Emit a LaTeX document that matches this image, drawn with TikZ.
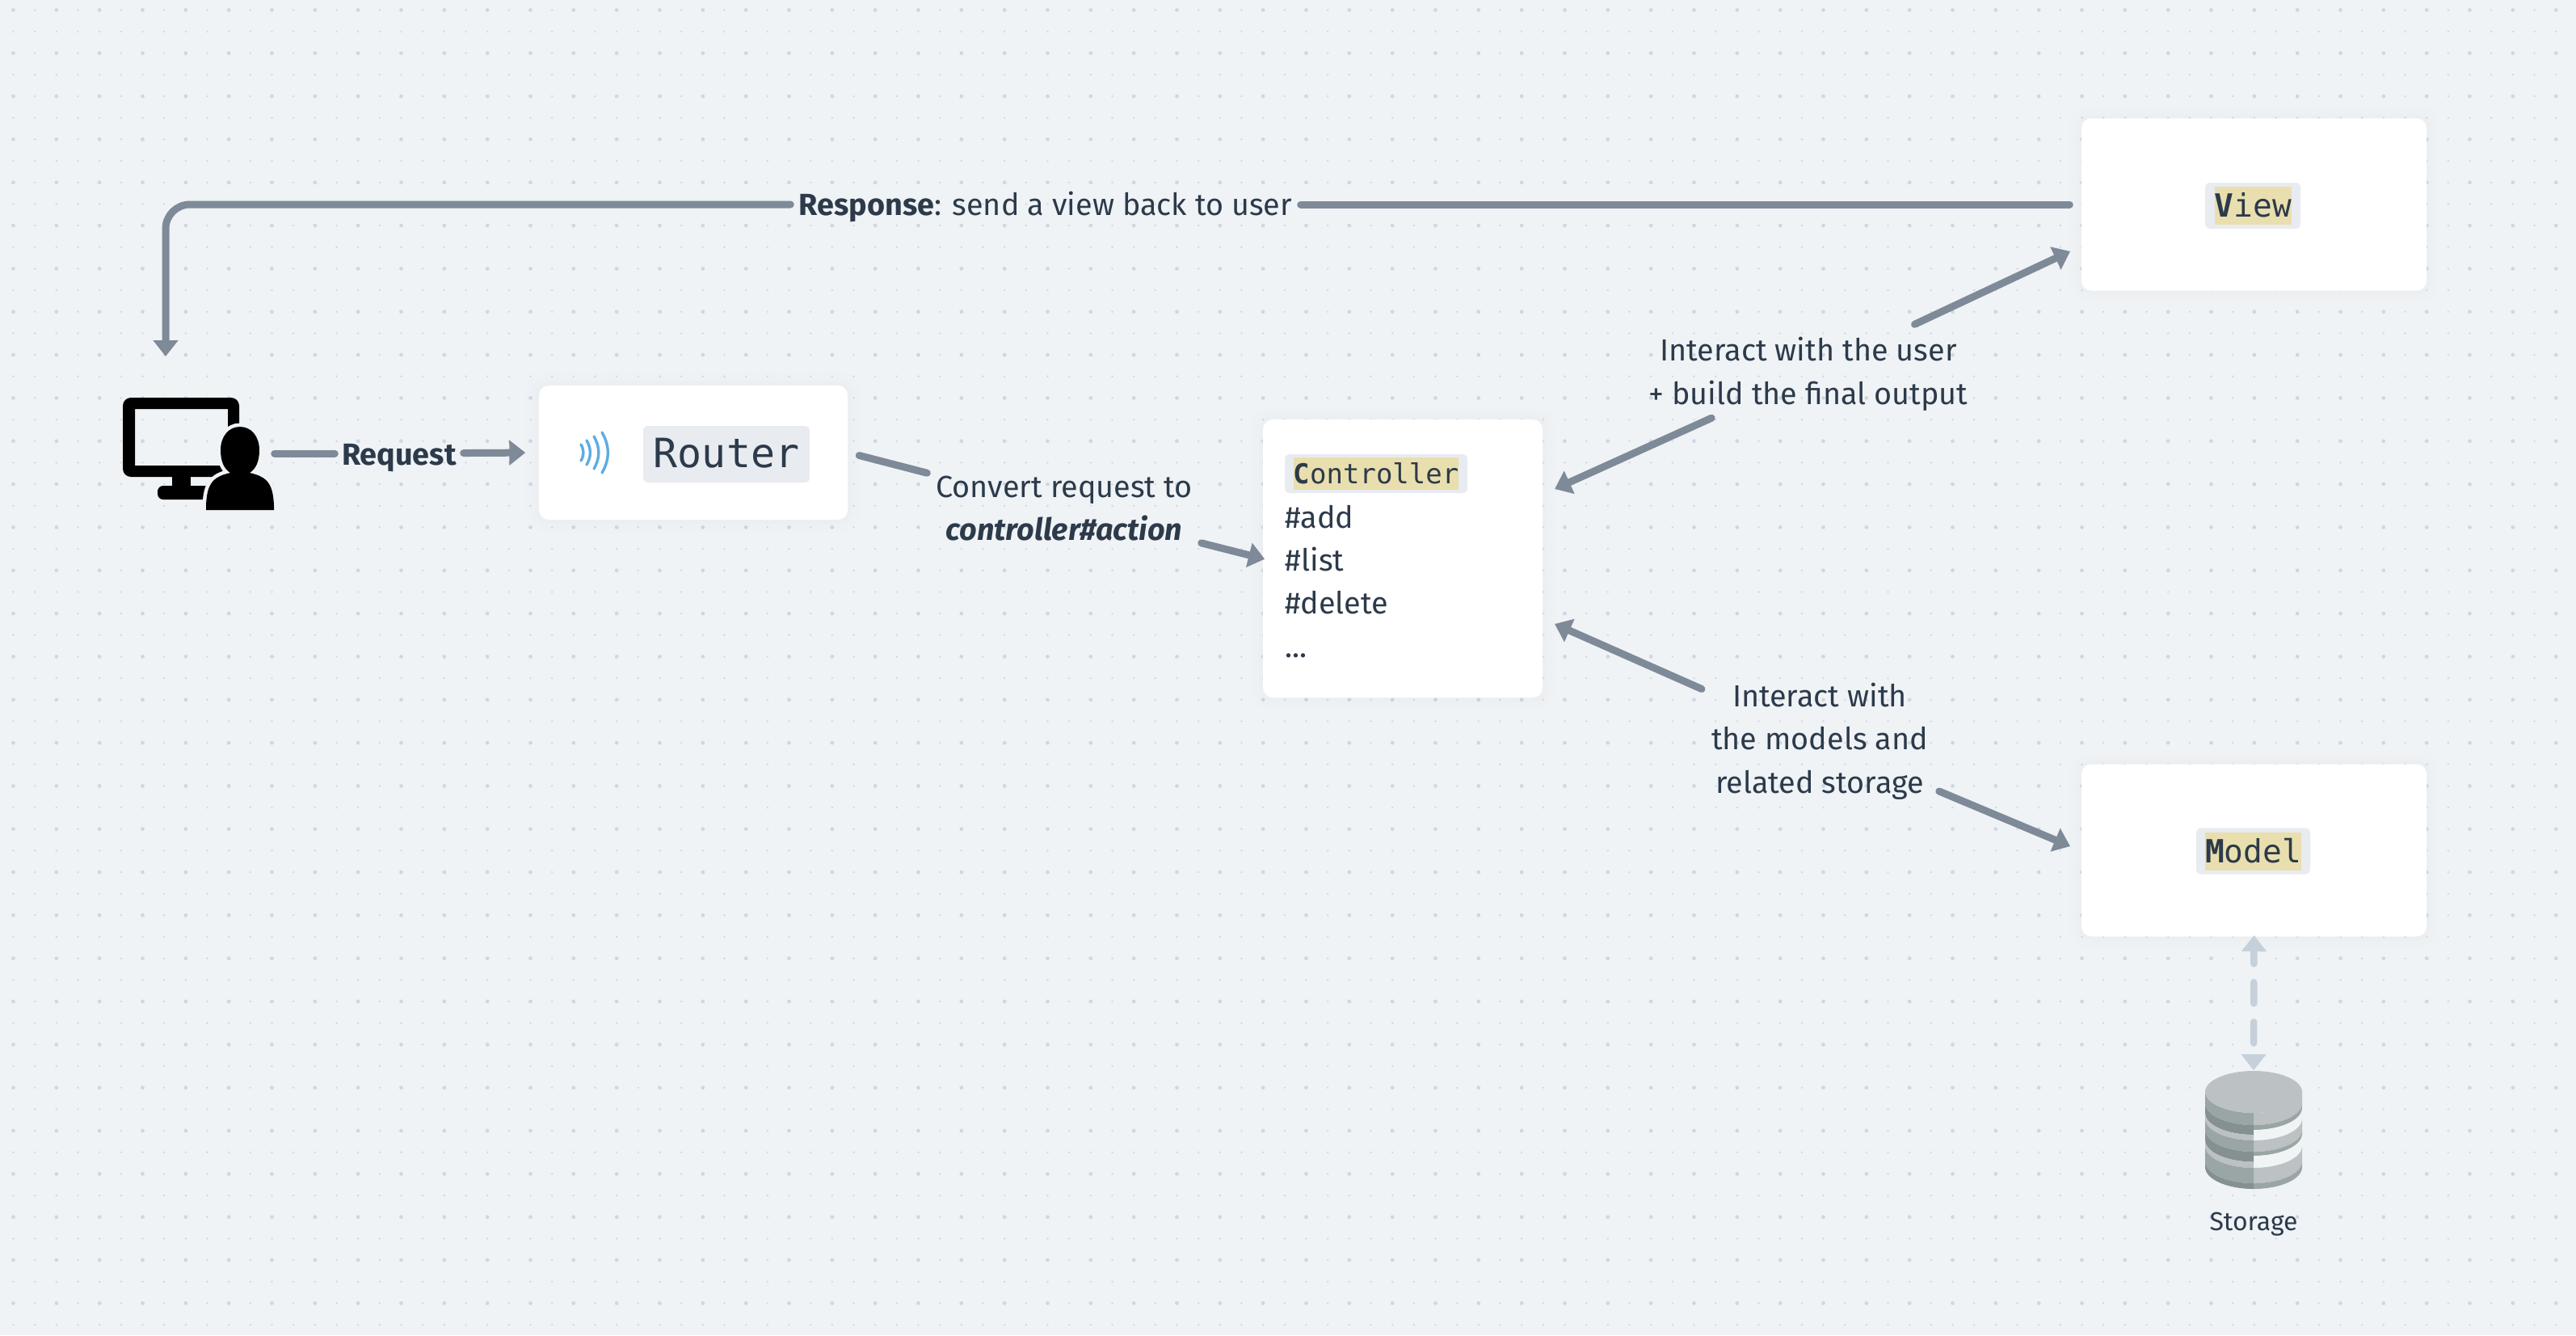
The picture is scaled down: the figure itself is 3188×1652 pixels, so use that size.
\documentclass[tikz,border=0pt]{standalone}
\usepackage{fontspec}
\setmainfont{Fira Sans}
\setmonofont{DejaVu Sans Mono}
\usetikzlibrary{arrows.meta}
\definecolor{bgc}{HTML}{EFF3F6}
\definecolor{dotc}{HTML}{D0D7E2}
\definecolor{ink}{HTML}{2C3A4A}
\definecolor{conn}{HTML}{7F8A98}
\definecolor{dashc}{HTML}{C5D0DA}
\definecolor{chipc}{HTML}{E8EBF0}
\definecolor{hilite}{HTML}{E9DFAE}
\definecolor{wavec}{HTML}{5DADE2}
\definecolor{dbl}{HTML}{BCC1C3}
\definecolor{dbm}{HTML}{9AA5A5}
\definecolor{dbd}{HTML}{859190}
\definecolor{dbw}{HTML}{F1F4F5}
\newcommand{\bandL}[3]{\fill[#3] (2789,#1) .. controls (2756,#1) and (2729,#1-12) .. (2729,#1-27) -- (2729,#2-27) .. controls (2729,#2-12) and (2756,#2) .. (2789,#2) -- cycle;}
\newcommand{\bandR}[3]{\fill[#3] (2789,#1) .. controls (2822,#1) and (2849,#1-12) .. (2849,#1-27) -- (2849,#2-27) .. controls (2849,#2-12) and (2822,#2) .. (2789,#2) -- cycle;}
\newcommand{\txt}{\fontsize{10.75pt}{15.22pt}\selectfont}
\tikzset{
  box/.style={fill=white,rounded corners=1.2mm,inner sep=0,
    preaction={draw=ink,draw opacity=.004,line width=3.4mm},
    preaction={draw=ink,draw opacity=.005,line width=2.2mm},
    preaction={draw=ink,draw opacity=.007,line width=1mm}},
  chip/.style={fill=chipc,rounded corners=.6mm,inner sep=0},
  hl/.style={fill=hilite,inner sep=0,text=ink,font=\ttfamily},
  lab/.style={text=ink,align=center,inner sep=0,font=\txt},
  item/.style={text=ink,anchor=base west,inner sep=0,font=\txt},
  conn/.style={draw=conn,line width=.9mm,line cap=round,line join=round,
    -{Triangle[length=2mm,width=3mm]}},
  plain/.style={draw=conn,line width=.9mm,line cap=round,line join=round},
  wave/.style={draw=wavec,line width=.34mm,line cap=round},
  ghost/.style={inner sep=0},
  dotsmall/.style={draw=dotc,line width=.26mm,line cap=round,dash pattern=on 0pt off 2.6667mm},
  dotlarge/.style={draw=dotc,line width=.48mm,line cap=round,dash pattern=on 0pt off 5.3333mm},
}
\begin{document}
\begin{tikzpicture}[x=0.1mm,y=-0.1mm]
\useasboundingbox (0,0) rectangle (3188,1652);
\fill[bgc] (0,0) rectangle (3188,1652);
% dotted grid
\foreach \j in {0,...,61} { \draw[dotsmall] (16.5,12.4+26.667*\j) -- (3188,12.4+26.667*\j); }
\foreach \j in {0,...,30} { \draw[dotlarge] (16.5,12.4+53.333*\j) -- (3188,12.4+53.333*\j); }

% boxes
\node[box,minimum width=38.2mm,minimum height=16.6mm] (router) at (858,560) {};
\node[box,minimum width=34.6mm,minimum height=34.4mm] (ctrl) at (1736,691) {};
\node[box,minimum width=42.7mm,minimum height=21.3mm] (view) at (2789.5,253) {};
\node[box,minimum width=42.7mm,minimum height=21.3mm] (model) at (2789.5,1052) {};

% router contents
\node[chip,minimum width=20.6mm,minimum height=7mm] (routerchip) at (899,562) {};
\node[text=ink,inner sep=0,text height=3.6mm,text depth=0pt,font=\ttfamily\fontsize{14.2pt}{16pt}\selectfont] (routertxt) at (899,560) {Router};
\draw[wave] (719,550) to[bend left=30] (719,570);
\draw[wave] (726,545) to[bend left=30] (726,575);
\draw[wave] (735,540) to[bend left=30] (735,580);
\draw[wave] (745,535) to[bend left=30] (745,585);

% controller contents
\node[chip,minimum width=22.6mm,minimum height=4.8mm] (ctrlchip) at (1703,586) {};
\node[hl,minimum width=20.4mm,minimum height=4mm,text height=2.4mm,text depth=0pt,font=\ttfamily\fontsize{9.67pt}{12pt}\selectfont] (ctrltxt) at (1703,586) {\textbf{C}ontroller};
\node[item] (add) at (1590,653) {\#add};
\node[item] (list) at (1590,706) {\#list};
\node[item] (del) at (1590,759) {\#delete};
\node[item] (more) at (1590,813) {...};

% view
\node[chip,minimum width=11.8mm,minimum height=5.7mm] (viewchip) at (2788,254.5) {};
\node[hl,minimum width=9.5mm,minimum height=4.7mm,text height=2.8mm,text depth=0pt,font=\ttfamily\fontsize{11.24pt}{13pt}\selectfont] (viewtxt) at (2788.5,254.5) {\textbf{V}iew};

% model
\node[chip,minimum width=14.1mm,minimum height=5.7mm] (modelchip) at (2788.5,1053) {};
\node[hl,minimum width=11.9mm,minimum height=4.7mm,text height=2.8mm,text depth=0pt,font=\ttfamily\fontsize{11.24pt}{13pt}\selectfont] (modeltxt) at (2788.5,1053) {\textbf{M}odel};

% user icon
\node[ghost,minimum width=18.7mm,minimum height=13.9mm] (user) at (245.5,561) {};
\fill[black,rounded corners=1mm,even odd rule] (152,492) rectangle (296,590) (167,506) [sharp corners] rectangle (282,576);
\fill[black] (213,589) rectangle (236,603);
\fill[black,rounded corners=.7mm] (195,601) rectangle (262,618);
\path[fill=bgc,draw=bgc,line width=.9mm,line join=round] (297,528) .. controls (283,528) and (273,540) .. (273,557) .. controls (273,570) and (277,580) .. (285,585) .. controls (262,590) and (256,600) .. (255,626) -- (255,631) -- (339,631) -- (339,626) .. controls (338,600) and (332,590) .. (309,585) .. controls (317,580) and (321,570) .. (321,557) .. controls (321,540) and (311,528) .. (297,528) -- cycle;
\fill[black] (297,528) .. controls (283,528) and (273,540) .. (273,557) .. controls (273,570) and (277,580) .. (285,585) .. controls (262,590) and (256,600) .. (255,626) -- (255,631) -- (339,631) -- (339,626) .. controls (338,600) and (332,590) .. (309,585) .. controls (317,580) and (321,570) .. (321,557) .. controls (321,540) and (311,528) .. (297,528) -- cycle;

% storage icon
\node[ghost,minimum width=12mm,minimum height=14.6mm] (storage) at (2789,1398) {};
\bandR{1377}{1392}{dbl}
\bandR{1392}{1398}{dbm}
\bandR{1398}{1411}{dbw}
\bandR{1411}{1425}{dbl}
\bandR{1425}{1430}{dbm}
\bandR{1430}{1445}{dbw}
\bandR{1445}{1464}{dbl}
\bandR{1464}{1471}{dbm}
\bandL{1377}{1392}{dbm}
\bandL{1392}{1404}{dbd}
\bandL{1404}{1411}{dbl}
\bandL{1411}{1425}{dbm}
\bandL{1425}{1437.5}{dbd}
\bandL{1437.5}{1445}{dbl}
\bandL{1445}{1464}{dbm}
\bandL{1464}{1471}{dbd}
\fill[dbl] (2789,1351) ellipse [x radius=60,y radius=26];
\node[text=ink,inner sep=0,font=\fontsize{9.1pt}{10pt}\selectfont] (storagetxt) at (2789,1515) {Storage};

% labels
\node[lab,minimum width=63mm,minimum height=5mm] (resp) at (1294,253) {\raisebox{-1.3mm}[2mm][2mm]{\textbf{Response}: send a view back to user}};
\node[lab,minimum width=15.8mm,minimum height=5mm] (req) at (494,561) {\raisebox{-1.4mm}[2mm][2mm]{\textbf{Request}}};
\node[lab,minimum width=33.8mm,minimum height=11mm] (conv) at (1317,629) {Convert request to\\\textbf{\textit{controller\#action}}};
\node[lab,minimum width=40mm,minimum height=11.6mm] (ivw) at (2238,463) {Interact with the user\\+ build the final output};
\node[lab,minimum width=32mm,minimum height=11.2mm] (imd) at (2252,917) {Interact with\\the models and\\related storage};

% free ends
\coordinate (userin) at (205,441);
\coordinate (ctrlup) at (1924,605);
\coordinate (viewin) at (2562,311);
\coordinate (ctrldn) at (1924,772);
\coordinate (modelin) at (2562,1047);

% connectors
\draw[plain] (user.east) -- (req);
\draw[conn,shorten >=1.6mm] (req) -- (router.west);
\draw[plain,shorten <=1.4mm] (router.east) -- (conv);
\draw[conn,shorten >=-.3mm] (conv) -- (ctrl.west);
\draw[conn,shorten <=-1.1mm] (ivw) -- (ctrlup);
\draw[conn,shorten <=.7mm] (ivw) -- (viewin);
\draw[conn,shorten <=-1.6mm] (imd) -- (ctrldn);
\draw[conn,shorten <=-1.4mm] (imd) -- (modelin);
\draw[plain,shorten <=1.4mm] (view.west) -- (resp);
\draw[conn,rounded corners=3mm] (resp.west) -| (userin);
\draw[draw=dashc,line width=.85mm,line cap=round,dash pattern=on 2.6mm off 2.3mm,dash phase=.95mm,{Triangle[length=2mm,width=3mm]}-{Triangle[length=2mm,width=3mm]},shorten <=-.2mm] (model.south) -- (storage.north);
\end{tikzpicture}
\end{document}
